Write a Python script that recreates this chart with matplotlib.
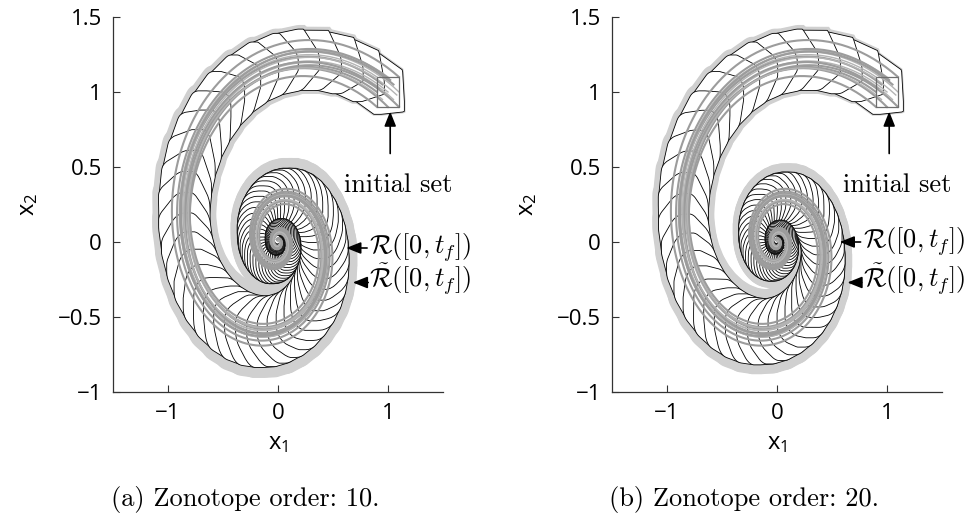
import numpy as np
import matplotlib
matplotlib.use("Agg")
import matplotlib.pyplot as plt
from matplotlib.patches import Polygon, Rectangle, FancyArrowPatch

plt.rcParams["font.family"] = ["Open Sans", "DejaVu Sans"]
plt.rcParams["mathtext.fontset"] = "custom"
plt.rcParams["mathtext.rm"] = "Open Sans"
plt.rcParams["mathtext.it"] = "Open Sans:italic"
plt.rcParams["mathtext.sf"] = "Open Sans"

# ---- linear system with uncertain parameters: x' = A x, A in [A_center +- A_radius]
A_center = np.array([[-0.9, -4.0],
                     [4.0, -0.9]])
A_radius = np.array([[0.135, 0.135],
                     [0.135, 0.135]])
outer_scale = 1.4           # larger parameter box used for the outer approximation
x0_center = np.array([1.0, 1.0])
x0_radius = np.array([0.1, 0.1])
time_step = 0.04
t_final = 5.0

zono_orders = [10, 20]
captions = ["(a) Zonotope order: 10.", "(b) Zonotope order: 20."]

# simulated trajectories: start points and parameter offsets (d11, d12, d21, d22)
sim_starts = [(0.9, 0.9), (1.1, 0.9), (0.9, 1.1), (1.1, 1.1), (1.0, 1.0),
              (0.95, 1.05), (1.05, 0.95), (1.0, 0.9), (1.0, 1.1), (0.9, 1.0),
              (1.1, 1.0), (1.05, 1.05), (0.95, 0.95), (0.92, 1.02), (1.08, 0.98),
              (1.02, 1.08)]
sim_offsets = [(0.08, 0.0, 0.0, 0.08), (-0.08, 0.0, 0.0, -0.08), (0.0, 0.0, 0.0, 0.0),
               (0.04, -0.05, 0.05, 0.04), (-0.04, 0.05, -0.05, -0.04), (0.06, 0.0, 0.0, 0.03),
               (-0.06, 0.0, 0.0, -0.03), (0.1, 0.05, -0.05, 0.1), (-0.1, -0.05, 0.05, -0.1),
               (0.0, 0.08, -0.08, 0.0), (0.0, -0.08, 0.08, 0.0), (0.05, 0.0, 0.0, -0.05),
               (-0.05, 0.02, 0.0, 0.05), (0.03, 0.0, 0.03, 0.03), (-0.03, 0.0, -0.03, -0.03),
               (0.09, 0.0, 0.0, 0.0)]
sim_widths = [1.5, 1.5, 1.0, 1.5, 1.0, 1.5, 1.0, 1.5, 1.0, 1.5, 1.0, 1.5, 1.0, 1.5, 1.0, 1.5]

xlim = (-1.5, 1.5)
ylim = (-1.0, 1.5)
xticks = [-1, 0, 1]
xticklabels = ["\u22121", "0", "1"]
yticks = [-1, -0.5, 0, 0.5, 1, 1.5]
yticklabels = ["\u22121", "\u22120.5", "0", "0.5", "1", "1.5"]

# annotation anchors per panel: (tip, tail) in data units
init_arrow = [((1.02, 0.87), (1.02, 0.59)), ((1.02, 0.87), (1.02, 0.59))]
init_text = [(0.60, 0.33), (0.60, 0.33)]
r_arrow = [((0.62, -0.04), (0.81, -0.04)), ((0.57, 0.0), (0.76, 0.0))]
rt_arrow = [((0.68, -0.27), (0.82, -0.27)), ((0.64, -0.27), (0.77, -0.27))]
r_text_x = [0.83, 0.78]


def expm(M):
    nrm = np.abs(M).sum(axis=1).max()
    s = max(0, int(np.ceil(np.log2(nrm + 1e-12))) + 2)
    Ms = M / 2.0 ** s
    E = np.eye(M.shape[0])
    term = np.eye(M.shape[0])
    for k in range(1, 20):
        term = term @ Ms / k
        E = E + term
    for _ in range(s):
        E = E @ E
    return E


def zono_vertices(c, G):
    G = G[:, np.abs(G).sum(axis=0) > 1e-14].copy()
    flip = (G[1] < 0) | ((G[1] == 0) & (G[0] < 0))
    G[:, flip] *= -1
    G = G[:, np.argsort(np.arctan2(G[1], G[0]))]
    p = c - G.sum(axis=1)
    pts = [p.copy()]
    for g in G.T:
        p = p + 2 * g
        pts.append(p.copy())
    for g in G.T[:-1]:
        p = p - 2 * g
        pts.append(p.copy())
    return np.array(pts)


def reduce_order(G, order):
    n, m = G.shape
    if m <= n * order:
        return G
    score = np.abs(G).sum(axis=0) - np.abs(G).max(axis=0)
    idx = np.argsort(score)
    n_box = m - n * (order - 1)
    small = G[:, idx[:n_box]]
    keep = G[:, idx[n_box:]]
    return np.hstack([keep, np.diag(np.abs(small).sum(axis=1))])


def reach_polygons(A_c, A_r, order):
    dt = time_step
    Phi = expm(A_c * dt)
    absA = np.abs(A_c) * dt
    F = expm(absA) - np.eye(2) - absA
    c = x0_center.copy()
    G = np.diag(x0_radius)
    polys = []
    for _ in range(int(round(t_final / dt))):
        xb = np.abs(c) + np.abs(G).sum(axis=1)
        c1 = Phi @ c
        G1 = Phi @ G
        unc = dt * (A_r @ np.abs(c))
        ci = 0.5 * (c + c1)
        Gi = np.hstack([0.5 * (G + G1), (0.5 * (c1 - c))[:, None], 0.5 * (G1 - G),
                        np.diag(unc + F @ xb)])
        polys.append(zono_vertices(ci, reduce_order(Gi, order + 2)))
        c = c1
        G = reduce_order(np.hstack([G1, np.diag(unc)]), order)
    return polys


def simulate(x0, off, h=0.005):
    A = A_center + np.array(off).reshape(2, 2)
    P = expm(A * h)
    x = np.array(x0, dtype=float)
    out = [x]
    for _ in range(int(round(t_final / h))):
        x = P @ x
        out.append(x)
    return np.array(out)


fig = plt.figure(figsize=(9.74, 5.18), dpi=100)
axes_rects = [[113 / 974, 126 / 518, 330 / 974, 375 / 518],
              [612 / 974, 126 / 518, 330 / 974, 375 / 518]]
caption_x = [245 / 974, 744 / 974]

trajs = [simulate(s, o) for s, o in zip(sim_starts, sim_offsets)]

for p, order in enumerate(zono_orders):
    ax = fig.add_axes(axes_rects[p])
    outer = reach_polygons(A_center, A_radius * outer_scale, order)
    inner = reach_polygons(A_center, A_radius, order)
    for v in outer:
        ax.add_patch(Polygon(v, closed=True, facecolor="#d0d0d0", edgecolor="#d0d0d0",
                             linewidth=1.0, zorder=1))
    for v in inner:
        ax.add_patch(Polygon(v, closed=True, facecolor="white", edgecolor="black",
                             linewidth=0.6, zorder=2))
    for tr, lw in zip(trajs, sim_widths):
        ax.plot(tr[:, 0], tr[:, 1], color="#9c9c9c" if lw > 1.2 else "#b4b4b4",
                linewidth=lw, zorder=3)
    ax.add_patch(Rectangle(x0_center - x0_radius, 2 * x0_radius[0], 2 * x0_radius[1],
                           facecolor="none", edgecolor="#6e6e6e", linewidth=0.9, zorder=4))

    akw = dict(arrowstyle="-|>,head_length=0.55,head_width=0.22", mutation_scale=16,
               color="black", linewidth=1.2, zorder=6, clip_on=False)
    tip, tail = init_arrow[p]
    ax.add_patch(FancyArrowPatch(tail, tip, shrinkA=0, shrinkB=0, **akw))
    ax.text(init_text[p][0], init_text[p][1], "initial set", family="cmr10",
            fontsize=19, va="baseline", ha="left", zorder=6)
    tip, tail = r_arrow[p]
    ax.add_patch(FancyArrowPatch(tail, tip, shrinkA=0, shrinkB=0, **akw))
    ax.text(r_text_x[p], tip[1], r"$\mathcal{R}([0,t_f])$", math_fontfamily="cm",
            fontsize=19, va="center", ha="left", zorder=6, clip_on=False)
    tip, tail = rt_arrow[p]
    ax.add_patch(FancyArrowPatch(tail, tip, shrinkA=0, shrinkB=0, **akw))
    ax.text(r_text_x[p], tip[1] + 0.02, r"$\tilde{\mathcal{R}}([0,t_f])$",
            math_fontfamily="cm", fontsize=19, va="center", ha="left", zorder=6,
            clip_on=False)

    ax.set_xlim(*xlim)
    ax.set_ylim(*ylim)
    ax.set_xticks(xticks)
    ax.set_xticklabels(xticklabels)
    ax.set_yticks(yticks)
    ax.set_yticklabels(yticklabels)
    for side in ("top", "right"):
        ax.spines[side].set_visible(False)
    for side in ("left", "bottom"):
        ax.spines[side].set_color("#333333")
        ax.spines[side].set_linewidth(0.9)
    ax.tick_params(direction="in", length=5, width=0.8, color="#333333",
                   labelsize=16, pad=8)
    ax.set_xlabel(r"$\mathrm{x}_{1}$", fontsize=17, labelpad=5)
    ax.set_ylabel(r"$\mathrm{x}_{2}$", fontsize=17, labelpad=13)
    fig.text(caption_x[p], 0.035, captions[p], family="cmr10", fontsize=19,
             ha="center", va="center")

fig.savefig("out.png", dpi=100)
